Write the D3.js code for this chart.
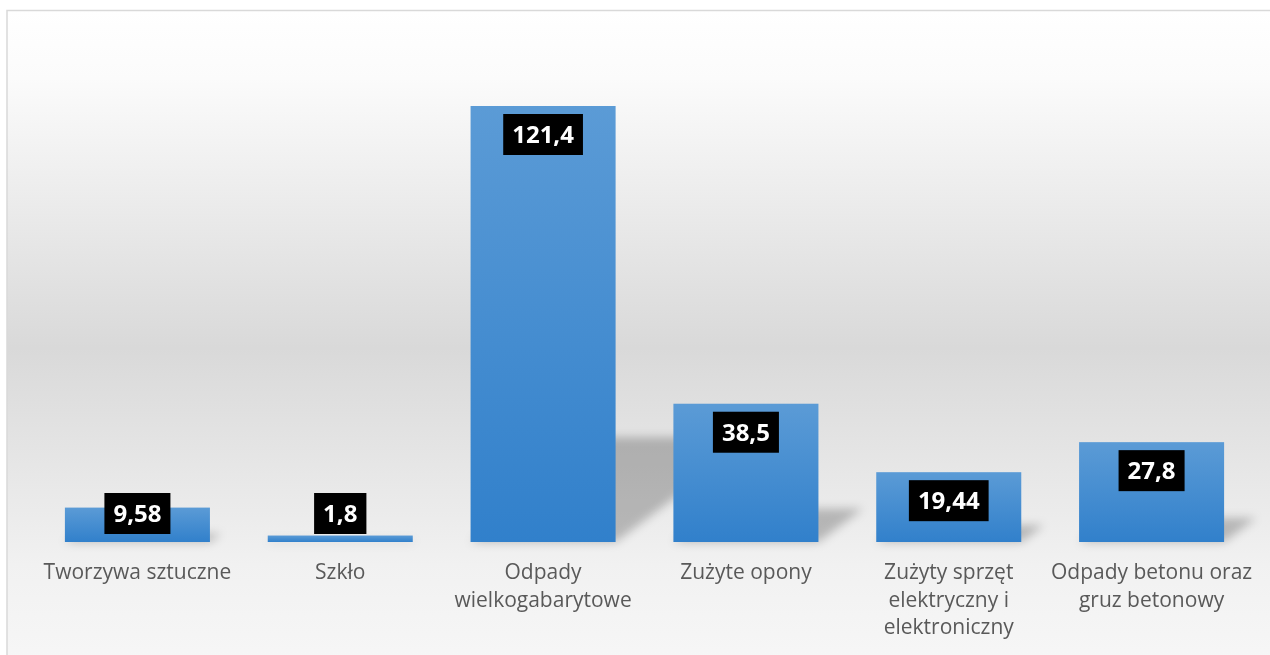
<!DOCTYPE html>
<html><head><meta charset="utf-8">
<script src="https://cdn.jsdelivr.net/npm/d3@7"></script>
<style>html,body{margin:0;padding:0;background:#fff;overflow:hidden}</style>
</head><body>
<svg id="chart" width="1270" height="655"></svg>
<script>
const categories = ["Tworzywa sztuczne","Szkło","Odpady wielkogabarytowe","Zużyte opony","Zużyty sprzęt elektryczny i elektroniczny","Odpady betonu oraz gruz betonowy"];
const values = [9.58, 1.8, 121.4, 38.5, 19.44, 27.8];
const valueLabels = ["9,58","1,8","121,4","38,5","19,44","27,8"];

const W = 1270, H = 655;
const svg = d3.select("#chart");
const defs = svg.append("defs");

const bg = defs.append("linearGradient").attr("id","bg").attr("x1",0).attr("y1",0).attr("x2",0).attr("y2",1);
bg.append("stop").attr("offset","0%").attr("stop-color","#ffffff");
bg.append("stop").attr("offset","10%").attr("stop-color","#fbfbfb");
bg.append("stop").attr("offset","50%").attr("stop-color","#d9d9d9");
bg.append("stop").attr("offset","82%").attr("stop-color","#f1f1f1");
bg.append("stop").attr("offset","100%").attr("stop-color","#f8f8f8");

const bar = defs.append("linearGradient").attr("id","bar").attr("x1",0).attr("y1",0).attr("x2",0).attr("y2",1);
bar.append("stop").attr("offset","0%").attr("stop-color","#5b9bd6");
bar.append("stop").attr("offset","100%").attr("stop-color","#3180cb");

const blur = defs.append("filter").attr("id","blur").attr("x","-50%").attr("y","-50%").attr("width","200%").attr("height","200%");
blur.append("feGaussianBlur").attr("stdDeviation",5);

svg.append("rect").attr("x",7).attr("y",10.5).attr("width",W+20).attr("height",H+20)
  .attr("fill","url(#bg)").attr("stroke","#d9d9d9").attr("stroke-width",1.5);

const x = d3.scaleBand().domain(categories).range([36, 1253]).paddingInner(0.285).paddingOuter(0.1425);
const y = d3.scaleLinear().domain([0, 121.4]).range([542, 106]);
const base = y(0);

// perspective shadows
const sh = svg.append("g").attr("filter","url(#blur)");
categories.forEach((c,i)=>{
  const h = base - y(values[i]);
  const sH = h*0.24, dx = h*0.32;
  const x0 = x(c), x1 = x(c)+x.bandwidth();
  sh.append("path")
    .attr("d", `M${x0},${base} L${x1},${base} L${x1+dx},${base-sH} L${x0+dx},${base-sH} Z`)
    .attr("fill","#000").attr("opacity",0.23);
});

svg.append("g").selectAll("rect").data(categories).join("rect")
  .attr("x", d=>x(d)).attr("width", x.bandwidth())
  .attr("y", (d,i)=>y(values[i])).attr("height",(d,i)=>base-y(values[i]))
  .attr("fill","url(#bar)");

// value labels
const lg = svg.append("g");
categories.forEach((c,i)=>{
  const cx = x(c)+x.bandwidth()/2;
  const top = Math.min(y(values[i])+8, base-49);
  const g = lg.append("g");
  const r = g.append("rect").attr("fill","#000");
  const t = g.append("text").attr("x",cx).attr("y",top+29)
    .attr("text-anchor","middle").attr("font-family","'Open Sans', sans-serif")
    .attr("font-weight","bold").attr("font-size",24).attr("fill","#fff").text(valueLabels[i]);
  const w = t.node().getComputedTextLength();
  r.attr("x",cx-w/2-9).attr("y",top).attr("width",w+18).attr("height",41);
});

// category labels
const xl = svg.append("g");
const maxW = 215;
categories.forEach(c=>{
  const cx = x(c)+x.bandwidth()/2;
  const t = xl.append("text").attr("text-anchor","middle")
    .attr("font-family","'Open Sans', sans-serif").attr("font-size",21).attr("fill","#595959");
  const words = c.split(" ");
  let lines = [], cur = "";
  const probe = t.append("tspan");
  words.forEach(wd=>{
    const test = cur ? cur+" "+wd : wd;
    probe.text(test);
    if (probe.node().getComputedTextLength() > maxW && cur) { lines.push(cur); cur = wd; }
    else cur = test;
  });
  lines.push(cur);
  probe.remove();
  lines.forEach((ln,k)=>{
    t.append("tspan").attr("x",cx).attr("y",579+k*27.5).text(ln);
  });
});
</script>
</body></html>
